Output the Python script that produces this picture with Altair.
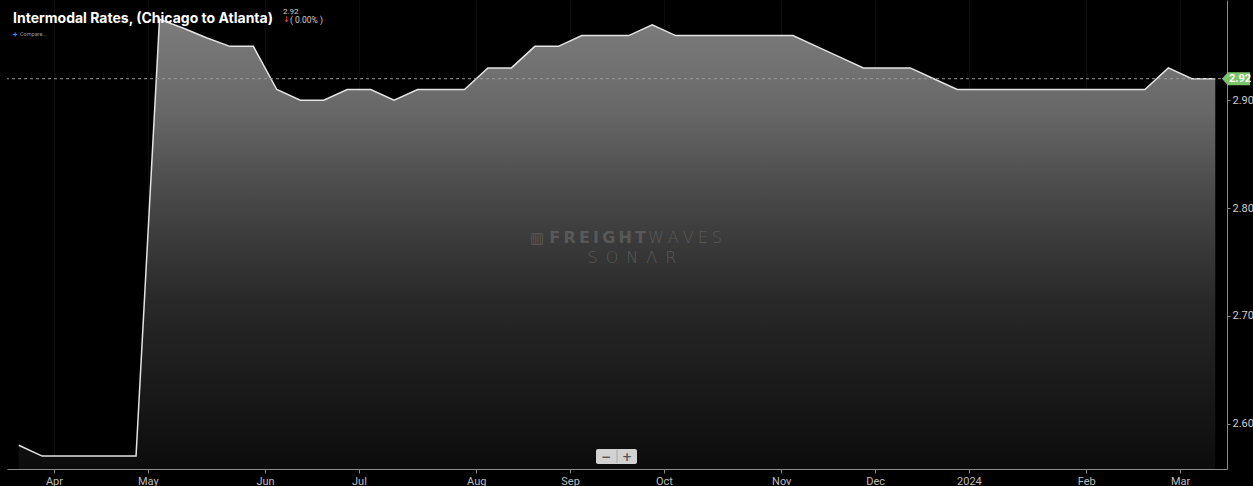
import altair as alt
import pandas as pd

# Weekly observation dates (Mondays)
dates = [
    "2023-03-20", "2023-03-27",
    "2023-04-03", "2023-04-10", "2023-04-17", "2023-04-24",
    "2023-05-01", "2023-05-08", "2023-05-15", "2023-05-22", "2023-05-29",
    "2023-06-05", "2023-06-12", "2023-06-19", "2023-06-26",
    "2023-07-03", "2023-07-10", "2023-07-17", "2023-07-24", "2023-07-31",
    "2023-08-07", "2023-08-14", "2023-08-21", "2023-08-28",
    "2023-09-04", "2023-09-11", "2023-09-18", "2023-09-25",
    "2023-10-02", "2023-10-09", "2023-10-16", "2023-10-23", "2023-10-30",
    "2023-11-06", "2023-11-13", "2023-11-20", "2023-11-27",
    "2023-12-04", "2023-12-11", "2023-12-18", "2023-12-25",
    "2024-01-01", "2024-01-08", "2024-01-15", "2024-01-22", "2024-01-29",
    "2024-02-05", "2024-02-12", "2024-02-19", "2024-02-26",
    "2024-03-04", "2024-03-11",
]

# Intermodal rate, Chicago to Atlanta ($/mile)
rates = [
    2.58, 2.57, 2.57, 2.57, 2.57, 2.57,
    2.975, 2.967, 2.958, 2.95, 2.95,
    2.91, 2.90, 2.90, 2.91, 2.91, 2.90, 2.91, 2.91, 2.91, 2.93, 2.93,
    2.95, 2.95, 2.96, 2.96, 2.96, 2.97,
    2.96, 2.96, 2.96, 2.96, 2.96, 2.96,
    2.95, 2.94, 2.93, 2.93, 2.93, 2.92,
    2.91, 2.91, 2.91, 2.91, 2.91, 2.91, 2.91, 2.91, 2.91,
    2.93, 2.92, 2.92,
]

y_ticks = [2.60, 2.70, 2.80, 2.90]
title_text = "Intermodal Rates, (Chicago to Atlanta)"
change_text = "( 0.00% )"

W, H = 1220, 469

df = pd.DataFrame({"date": pd.to_datetime(dates), "rate": rates})
df["idx"] = list(range(len(df)))
last_rate = rates[-1]

# month ticks placed between the last week of a month and the first of the next
tick_vals, tick_labels = [], []
for i in range(1, len(df)):
    if df["date"][i].month != df["date"][i - 1].month:
        tick_vals.append(i - 0.5)
        d = df["date"][i]
        tick_labels.append(str(d.year) if d.month == 1 else d.strftime("%b"))
label_expr = ""
for v, l in zip(tick_vals, tick_labels):
    label_expr += f"datum.value == {v} ? '{l}' : "
label_expr += "''"

FONT = "Roboto"

x_enc = alt.X(
    "idx:Q",
    scale=alt.Scale(domain=[-0.5, len(df) - 0.5], nice=False, zero=False),
    axis=alt.Axis(
        values=tick_vals, labelExpr=label_expr, title=None,
        grid=True, gridColor="#ffffff", gridOpacity=0.05,
        domainColor="#8a8a8a", tickColor="#8a8a8a", tickSize=4,
        labelColor={"condition": {"test": "datum.label == '2024'", "value": "#e8e8e8"}, "value": "#bdbdbd"},
        labelFontWeight={"condition": {"test": "datum.label == '2024'", "value": "bold"}, "value": "normal"},
        labelFont=FONT, labelFontSize=11, labelPadding=2, labelFlush=False,
    ),
)
y_enc = alt.Y(
    "rate:Q",
    stack=None,
    scale=alt.Scale(domain=[2.558, 2.993], nice=False, zero=False),
    axis=alt.Axis(
        orient="right", values=y_ticks, format=".2f", title=None, grid=False,
        domainColor="#8a8a8a", tickColor="#8a8a8a", tickSize=3,
        labelColor="#cfcfcf", labelFont=FONT, labelFontSize=11, labelPadding=2,
    ),
)

gradient = alt.Gradient(
    gradient="linear", x1=0, y1=0, x2=0, y2=1,
    stops=[
        alt.GradientStop(color="#7c7c7c", offset=0),
        alt.GradientStop(color="#686868", offset=0.2),
        alt.GradientStop(color="#474747", offset=0.4),
        alt.GradientStop(color="#282828", offset=0.63),
        alt.GradientStop(color="#0c0c0c", offset=1),
    ],
)

base = alt.Chart(df)
area = base.mark_area(color=gradient, interpolate="linear", clip=True).encode(
    x=x_enc, y=y_enc, y2=alt.value(H)
)
line = base.mark_line(color="#e4e4e4", strokeWidth=1.5).encode(x=x_enc, y=y_enc)

last_df = pd.DataFrame({"rate": [last_rate], "label": [f"{last_rate:.2f}"]})
rule = alt.Chart(last_df).mark_rule(color="#9a9a9a", strokeDash=[3, 3], strokeWidth=1).encode(
    y=alt.Y("rate:Q")
)
tag = alt.Chart(last_df).mark_point(
    shape="M-1.3,0L-0.75,-0.6L1.3,-0.6L1.3,0.6L-0.75,0.6Z",
    filled=True, color="#7cc46c", opacity=1, size=470, strokeWidth=0,
).encode(x=alt.value(W + 9), y=alt.Y("rate:Q"))
tag_text = alt.Chart(last_df).mark_text(
    color="#ffffff", font=FONT, fontSize=11, fontWeight="bold", align="center", baseline="middle"
).encode(x=alt.value(W + 13), y=alt.Y("rate:Q"), text="label:N")

one = pd.DataFrame({"a": [0]})


def txt(s, x, y, **kw):
    return alt.Chart(one).mark_text(text=s, align=kw.pop("align", "left"),
                                    baseline=kw.pop("baseline", "alphabetic"), **kw).encode(
        x=alt.value(x), y=alt.value(y))


title = txt(title_text, 6, 23, font="Inter", fontSize=14, fontWeight="bold", color="#ffffff")
val = txt(f"{last_rate:.2f}", 276, 14, font=FONT, fontSize=8, color="#cfcfcf")
arrow = txt("↓", 276, 22, font="DejaVu Sans", fontSize=8, fontWeight="bold", color="#e0403a")
chg = txt(change_text, 283, 23, font=FONT, fontSize=8.5, color="#cfcfcf")
plus = txt("+", 6, 37, font=FONT, fontSize=8, fontWeight="bold", color="#3d8fe0")
compare = txt("Compare...", 13, 36, font=FONT, fontSize=5.5, color="#9a9a9a")

WM = "#585858"
sp = "\u2009"
wm_icon = txt("▥", 523, 243, font="DejaVu Sans", fontSize=15, color=WM)
wm1 = txt(sp.join("FREIGHT"), 639, 243, font="DejaVu Sans", fontSize=16, fontWeight="bold",
          color=WM, align="right")
wm2 = txt("\u2005".join("WAVES"), 641, 243, font="DejaVu Sans", fontSize=16, fontWeight=200, color=WM)
wm3 = txt("\u2002".join("SONΛR"), 625, 263, font="DejaVu Sans", fontSize=16, fontWeight=200,
          color=WM, align="center")

btn = alt.Chart(one).mark_rect(color="#d2d2d2", cornerRadius=2).encode(
    x=alt.value(589), x2=alt.value(630), y=alt.value(449), y2=alt.value(464))
btn_div = alt.Chart(one).mark_rule(color="#a8a8a8").encode(
    x=alt.value(610), y=alt.value(450), y2=alt.value(463))
btn_m = txt("−", 599, 457, font="DejaVu Sans", fontSize=12, fontWeight="bold", color="#555555",
            align="center", baseline="middle")
btn_p = txt("+", 620, 457, font="DejaVu Sans", fontSize=12, fontWeight="bold", color="#555555",
            align="center", baseline="middle")

chart = alt.layer(
    area, line, rule, tag, tag_text,
    wm_icon, wm1, wm2, wm3,
    btn, btn_div, btn_m, btn_p,
    title, val, arrow, chg, plus, compare,
).properties(
    width=W, height=H,
    autosize=alt.AutoSizeParams(type="none"),
    padding={"left": 7, "top": 0, "right": 26, "bottom": 17},
    background="#000000",
).configure_view(strokeWidth=0)

chart.save("out.html", embed_options={"renderer": "svg", "actions": False})
